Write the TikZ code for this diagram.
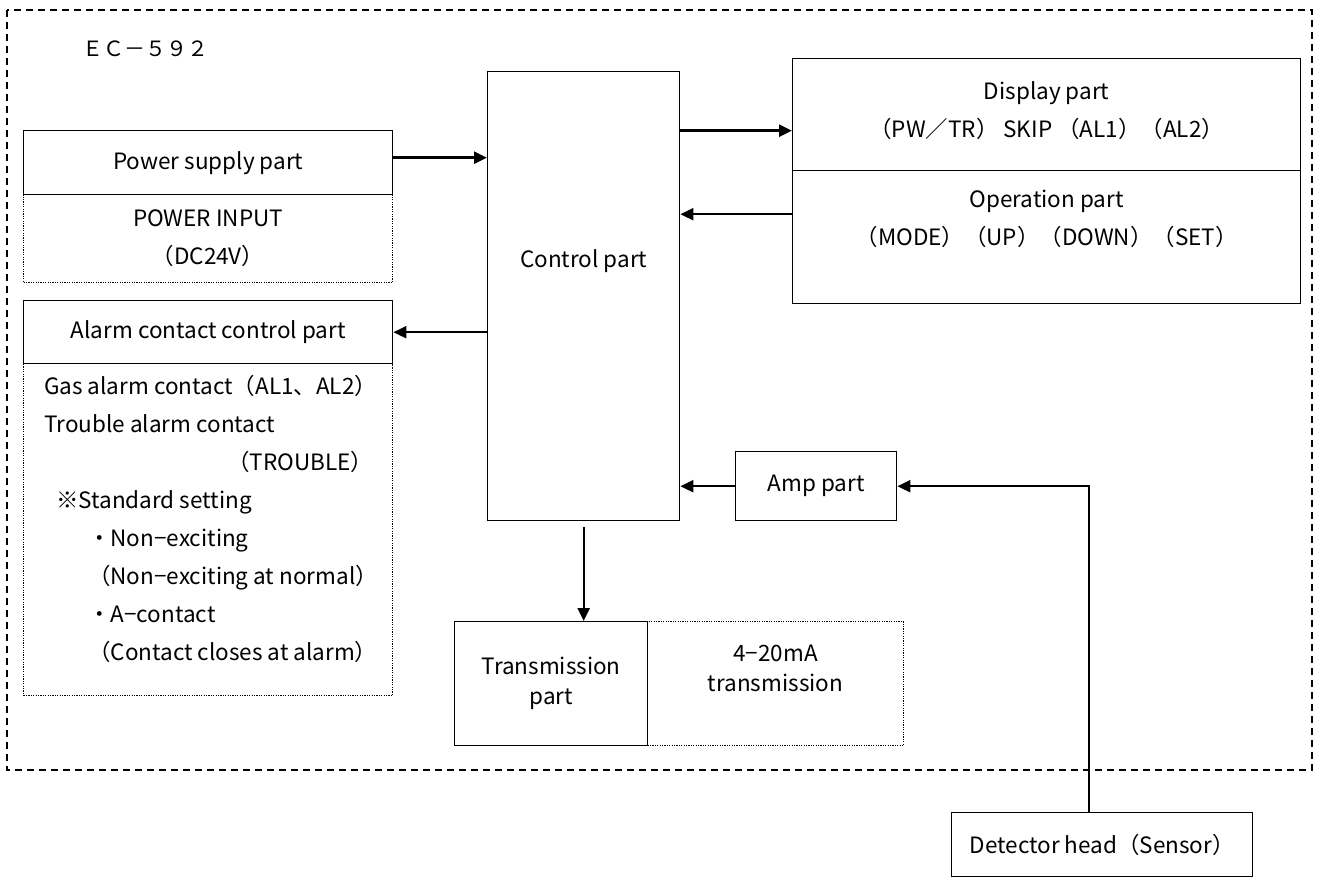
\documentclass[tikz,border=0pt]{standalone}
\usepackage{fontspec}
\setmainfont{Noto Sans CJK JP}
\usetikzlibrary{arrows.meta,positioning}

\begin{document}
\begin{tikzpicture}[x=1pt,y=-1pt,
        box/.style={draw, line width=1.4pt, inner sep=0pt, align=center, anchor=north west},
        dotbox/.style={draw, line width=1.1pt, dash pattern=on 1.2pt off 1.2pt, inner sep=0pt, align=center, anchor=north west},
        arr/.style={-{Triangle[length=13pt,width=12pt]}, line width=2.4pt},
        font=\fontsize{22.5}{38}\selectfont]
    \useasboundingbox (0,0) rectangle (1317,877);
    % outer frame
    \draw[dashed, line width=1.4pt, dash pattern=on 7pt off 5pt] (7,10) rectangle (1312,770);
    \node[anchor=west, inner sep=0pt, font=\fontsize{21}{38}\selectfont] (model) at (82,49) {ＥＣ－５９２};

    % dotted parts first
    \node[dotbox, minimum width=369, minimum height=88] (powerin) at (23,194) {POWER INPUT\\（DC24V）};
    \node[dotbox, minimum width=369, minimum height=332] (alarmout) at (23,363) {};
    \node[anchor=north west, align=left, inner sep=0pt] (alarmtxt) at (44,375) {Gas alarm contact（AL1、AL2）\\
        Trouble alarm contact\\
        \hspace*{183pt}（TROUBLE）\\
        \hspace*{12pt}※Standard setting\\
        \hspace*{44pt}・Non−exciting\\
        \hspace*{44pt}（Non−exciting at normal）\\
        \hspace*{44pt}・A−contact\\
        \hspace*{44pt}（Contact closes at alarm）};
    \node[dotbox, minimum width=256, minimum height=124, font=\fontsize{22.5}{30}\selectfont] (mAout) at (647,621) {4−20mA\\transmission\\ \mbox{}};

    % blocks
    \node[box, minimum width=369, minimum height=64] (power) at (23,130) {Power supply part};
    \node[box, minimum width=369, minimum height=63] (alarm) at (23,300) {Alarm contact control part};
    \node[box, minimum width=192, minimum height=449] (control) at (487,71) {Control part\\ \mbox{}\\ \mbox{}};
    \node[box, minimum width=508, minimum height=112] (display) at (792,58) {Display part\\（PW／TR） SKIP （AL1）（AL2）\\[-28pt] \mbox{}};
    \node[box, minimum width=508, minimum height=133] (operation) at (792,170) {Operation part\\（MODE）（UP）（DOWN）（SET）\\ \mbox{}};
    \node[box, minimum width=161, minimum height=69] (amp) at (735,451) {Amp part};
    \node[box, minimum width=193, minimum height=124, font=\fontsize{22.5}{30}\selectfont] (trans) at (454,621) {Transmission\\part};
    \node[box, minimum width=301, minimum height=64] (detector) at (951,812) {Detector head（Sensor）};

    % connectors
    \coordinate (pwout) at ([yshift=5pt]power.east);
    \coordinate (dispin) at ([yshift=-16pt]display.west);
    \coordinate (opout) at ([yshift=23pt]operation.west);
    \coordinate (sensor) at ([xshift=-13pt]detector.north);
    \draw[arr] (pwout) -- (pwout -| control.west);
    \draw[arr] (control.west |- alarm.east) -- (alarm.east);
    \draw[arr] (control.east |- dispin) -- (dispin);
    \draw[arr] (opout) -- (opout -| control.east);
    \draw[arr] (amp.west) -- (amp.west -| control.east);
    \draw[arr] (sensor) |- (amp.east);
    \draw[arr] ([yshift=-6pt]control.south) -- (control.south |- trans.north);
\end{tikzpicture}
\end{document}
